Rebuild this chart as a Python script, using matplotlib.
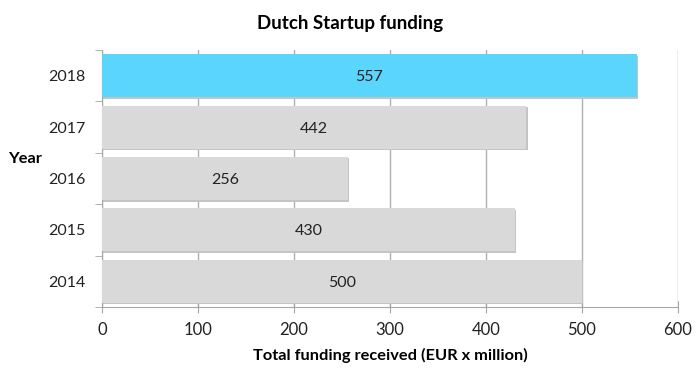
import matplotlib
matplotlib.use("Agg")
from matplotlib import pyplot as plt

years = ["2014", "2015", "2016", "2017", "2018"]
funding = [500, 430, 256, 442, 557]
bar_colors = ["#d9d9d9", "#d9d9d9", "#d9d9d9", "#d9d9d9", "#5ad6fd"]

plt.rcParams['font.family'] = ['Lato', 'DejaVu Sans']

fig = plt.figure(figsize=(7, 3.71), dpi=100)
ax = fig.add_axes([0.1457, 0.1725, 0.8229, 0.6927])

ypos = range(len(years))
# soft shadow behind each bar
ax.barh([y - 0.03 for y in ypos], [v + 1.5 for v in funding], height=0.84,
        color="#c4c4c4", zorder=2)
bars = ax.barh(ypos, funding, height=0.84, color=bar_colors, zorder=3)

for y, v in zip(ypos, funding):
    ax.text(v / 2, y, str(v), ha="center", va="center_baseline",
            fontsize=11.5, color="#222222", zorder=4)

ax.set_xlim(0, 600)
ax.set_ylim(-0.5, 4.5)
ax.set_xticks(range(0, 601, 100))
ax.set_yticks(list(ypos))
ax.set_yticklabels(years)
ax.set_yticks([y - 0.5 for y in range(len(years) + 1)], minor=True)
ax.grid(True, axis="x", color="#b0b0b0", linewidth=1, zorder=0)

for s in ["top", "right"]:
    ax.spines[s].set_visible(False)
for s in ["left", "bottom"]:
    ax.spines[s].set_color("#a6a6a6")
ax.tick_params(axis="x", direction="inout", length=8, color="#a6a6a6",
               labelsize=12, pad=7, labelcolor="#222222")
ax.tick_params(axis="y", which="major", length=0, labelsize=11.5, pad=12,
               labelcolor="#222222")
ax.tick_params(axis="y", which="minor", direction="out", length=5,
               color="#a6a6a6")

ax.set_xlabel("Total funding received (EUR x million)", fontsize=11.8,
              fontweight="bold", labelpad=7)
ax.set_ylabel("Year", fontsize=11.8, fontweight="bold", rotation=0,
              ha="center", va="center")
ax.yaxis.set_label_coords(-0.134, 0.577)
fig.suptitle("Dutch Startup funding", fontsize=13.5, fontweight="bold",
             x=0.5, y=0.96)

fig.savefig("out.png", dpi=100)
